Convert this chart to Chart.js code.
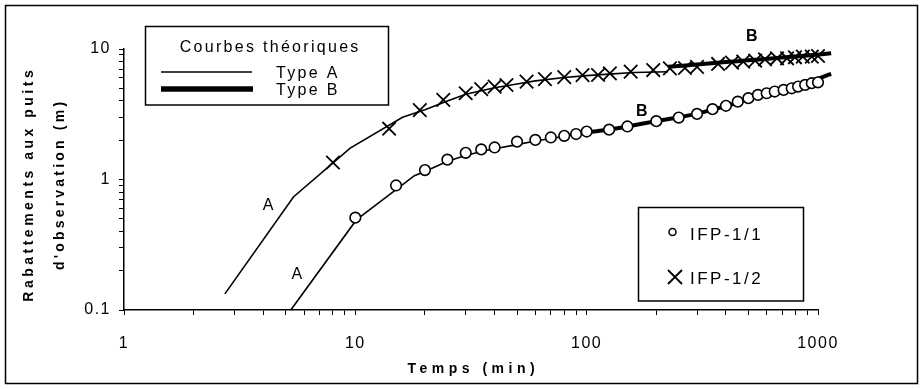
<!DOCTYPE html>
<html>
<head>
<meta charset="utf-8">
<script src="https://cdn.jsdelivr.net/npm/chart.js@4.4.0/dist/chart.umd.min.js"></script>
<style>
  html, body { margin: 0; padding: 0; background: #fff; }
  #c { display: block; background: #fff; }
</style>
</head>
<body>
<canvas id="c" width="923" height="389"></canvas>
<script>
// Rabattements aux puits d'observation - log-log

const xTickValues = [1, 10, 100, 1000];
const xTickLabels = ['1', '10', '100', '1000'];
const yTickValues = [0.1, 1, 10];
const yTickLabels = ['0.1', '1', '10'];

// mesures IFP-1/1 (cercles)
const tempsIFP11 = [10, 15, 20, 25, 30, 35, 40, 50, 60, 70, 80, 90, 100, 125, 150, 200, 250, 300, 350, 400,
    450, 500, 550, 600, 650, 710, 770, 820, 880, 940, 1000];
const rabIFP11 = [0.51, 0.9, 1.18, 1.42, 1.6, 1.7, 1.76, 1.95, 2.01, 2.1, 2.16, 2.23, 2.33, 2.41, 2.55, 2.8, 2.98, 3.18, 3.46, 3.67,
    3.95, 4.2, 4.45, 4.58, 4.72, 4.86, 5.0, 5.15, 5.31, 5.47, 5.55];

// mesures IFP-1/2 (croix)
const tempsIFP12 = [8, 14, 19, 24, 30, 35, 40, 45, 55, 66, 80, 96, 112, 126, 155, 194, 229, 266, 300, 370,
    425, 475, 535, 590, 665, 735, 795, 860, 940, 1000];
const rabIFP12 = [1.35, 2.45, 3.4, 4.07, 4.58, 4.92, 5.15, 5.3, 5.62, 5.87, 6.08, 6.3, 6.32, 6.5, 6.7, 6.9, 7.1, 7.15, 7.3, 7.68,
    7.86, 8.0, 8.14, 8.34, 8.49, 8.49, 8.64, 8.73, 8.73, 8.84];

// courbes theoriques (elles depassent un peu 1000 min)
const tempsA12 = [2.73, 5.4, 9.5, 16, 20, 25, 30, 40, 50, 60, 80, 100, 130, 160, 225];
const rabA12 = [0.133, 0.735, 1.74, 3.0, 3.42, 4.0, 4.5, 5.05, 5.4, 5.7, 6.05, 6.25, 6.45, 6.6, 6.7];
const tempsB12 = [225, 300, 400, 500, 700, 900, 1140];
const rabB12 = [7.3, 7.6, 7.94, 8.2, 8.6, 8.9, 9.27];

const tempsA11 = [5.26, 10.1, 18, 20, 25, 30, 35, 40, 50, 60, 70, 80, 95];
const rabA11 = [0.1, 0.49, 1.07, 1.15, 1.38, 1.53, 1.64, 1.72, 1.85, 1.97, 2.06, 2.14, 2.27];
const tempsB11 = [95, 125, 150, 200, 250, 300, 400, 500, 600, 700, 800, 900, 1140];
const rabB11 = [2.27, 2.42, 2.55, 2.8, 3.0, 3.2, 3.65, 4.15, 4.55, 4.9, 5.25, 5.55, 6.45];

// etiquettes des courbes
const curveLabels = ['A', 'A', 'B', 'B'];
const curveLabelBold = [false, false, true, true];
const curveLabelT = [4.2, 5.58, 517, 173];
const curveLabelS = [0.63, 0.187, 12.4, 3.32];

const FONT = '"Liberation Sans", Arial, Helvetica, sans-serif';

function toXY(xs, ys) {
    return xs.map((x, i) => ({ x: x, y: ys[i] }));
}

// draw text with letter spacing, align = left | center
function spaced(ctx, text, x, y, font, sp, align) {
    ctx.save();
    ctx.font = font;
    ctx.letterSpacing = sp + 'px';
    ctx.textAlign = 'left';
    ctx.textBaseline = 'alphabetic';
    ctx.fillStyle = '#000';
    let w = ctx.measureText(text).width - sp;
    let x0 = align === 'center' ? x - w / 2 : x;
    ctx.fillText(text, x0, y);
    ctx.restore();
}

function decadeTicks(min, max) {
    const out = [];
    for (let e = Math.round(Math.log10(min)); e < Math.round(Math.log10(max)); e++) {
        for (let k = 1; k < 10; k++) out.push(+(k * Math.pow(10, e)).toPrecision(3));
    }
    out.push(max);
    return out.map(v => ({ value: v }));
}

const decorPlugin = {
    id: 'decor',
    beforeDraw(chart) {
        chart.ctx.letterSpacing = '1.5px';
    },
    afterDatasetsDraw(chart) {
        const ctx = chart.ctx;
        const xs = chart.scales.x, ys = chart.scales.y;
        ctx.save();
        ctx.letterSpacing = '0px';
        curveLabels.forEach((lab, i) => {
            const px = xs.getPixelForValue(curveLabelT[i]);
            const py = ys.getPixelForValue(curveLabelS[i]);
            ctx.font = (curveLabelBold[i] ? 'bold ' : '') + '16px ' + FONT;
            ctx.fillStyle = '#000';
            ctx.textAlign = 'center';
            ctx.textBaseline = 'middle';
            ctx.fillText(lab, px, py);
        });
        ctx.restore();
    },
    afterDraw(chart) {
        const ctx = chart.ctx;
        ctx.letterSpacing = '0px';
        ctx.save();
        ctx.strokeStyle = '#000';

        // cadre
        ctx.lineWidth = 1.5;
        ctx.strokeRect(5.5, 5.5, 912, 378);

        // axis titles
        spaced(ctx, 'Temps (min)', 471, 373, 'bold 14px ' + FONT, 4.5, 'center');
        ctx.save();
        ctx.translate(33, 186);
        ctx.rotate(-Math.PI / 2);
        spaced(ctx, 'Rabattements aux puits', 0, 0, 'bold 14px ' + FONT, 3.5, 'center');
        ctx.restore();
        ctx.save();
        ctx.translate(64, 186);
        ctx.rotate(-Math.PI / 2);
        spaced(ctx, "d'observation (m)", 0, 0, 'bold 14px ' + FONT, 3.2, 'center');
        ctx.restore();

        // legend 1 : courbes theoriques
        ctx.fillStyle = '#fff';
        ctx.fillRect(145.5, 26.5, 243, 78.5);
        ctx.lineWidth = 1.5;
        ctx.strokeRect(145.5, 26.5, 243, 78.5);
        spaced(ctx, 'Courbes théoriques', 269, 51.5, '16px ' + FONT, 2.3, 'center');
        ctx.beginPath();
        ctx.lineWidth = 1.5;
        ctx.moveTo(161, 72);
        ctx.lineTo(252, 72);
        ctx.stroke();
        ctx.beginPath();
        ctx.lineWidth = 5.5;
        ctx.moveTo(161, 89);
        ctx.lineTo(253, 89);
        ctx.stroke();
        spaced(ctx, 'Type A', 276, 77.5, '16px ' + FONT, 2.3, 'left');
        spaced(ctx, 'Type B', 276, 95, '16px ' + FONT, 2.3, 'left');

        // legend 2 : mesures
        ctx.fillStyle = '#fff';
        ctx.fillRect(638.5, 207.5, 165, 93.5);
        ctx.lineWidth = 1.5;
        ctx.strokeRect(638.5, 207.5, 165, 93.5);
        ctx.beginPath();
        ctx.arc(672.5, 232, 3.5, 0, Math.PI * 2);
        ctx.fillStyle = '#fff';
        ctx.fill();
        ctx.lineWidth = 1.5;
        ctx.stroke();
        ctx.beginPath();
        ctx.lineWidth = 1.8;
        ctx.moveTo(668, 270); ctx.lineTo(682, 284);
        ctx.moveTo(682, 270); ctx.lineTo(668, 284);
        ctx.stroke();
        spaced(ctx, 'IFP-1/1', 690, 240, '17px ' + FONT, 2.5, 'left');
        spaced(ctx, 'IFP-1/2', 690, 283.5, '17px ' + FONT, 2.5, 'left');
        ctx.restore();
    }
};

const ctx = document.getElementById('c').getContext('2d');
new Chart(ctx, {
    type: 'scatter',
    data: {
        datasets: [{
            label: 'IFP-1/1',
            data: toXY(tempsIFP11, rabIFP11),
            pointStyle: 'circle',
            pointRadius: 5.3,
            backgroundColor: '#fff',
            borderColor: '#000',
            borderWidth: 1.6,
            clip: false
        }, {
            label: 'IFP-1/2',
            data: toXY(tempsIFP12, rabIFP12),
            pointStyle: 'crossRot',
            pointRadius: 9.5,
            borderColor: '#000',
            borderWidth: 1.8,
            clip: false
        }, {
            label: 'Type A (IFP-1/2)',
            data: toXY(tempsA12, rabA12),
            showLine: true,
            pointRadius: 0,
            borderColor: '#000',
            borderWidth: 1.6,
            tension: 0,
            clip: false
        }, {
            label: 'Type B (IFP-1/2)',
            data: toXY(tempsB12, rabB12),
            showLine: true,
            pointRadius: 0,
            borderColor: '#000',
            borderWidth: 4,
            tension: 0.3,
            clip: false
        }, {
            label: 'Type A (IFP-1/1)',
            data: toXY(tempsA11, rabA11),
            showLine: true,
            pointRadius: 0,
            borderColor: '#000',
            borderWidth: 1.6,
            tension: 0,
            clip: false
        }, {
            label: 'Type B (IFP-1/1)',
            data: toXY(tempsB11, rabB11),
            showLine: true,
            pointRadius: 0,
            borderColor: '#000',
            borderWidth: 4,
            tension: 0.3,
            clip: false
        }]
    },
    options: {
        responsive: false,
        animation: false,
        layout: { padding: { top: 49, right: 105, left: 0, bottom: 0 } },
        plugins: {
            legend: { display: false },
            tooltip: { enabled: false }
        },
        scales: {
            x: {
                type: 'logarithmic',
                position: 'bottom',
                min: 1,
                max: 1000,
                afterBuildTicks: (s) => { s.ticks = decadeTicks(1, 1000); },
                afterFit: (s) => { s.height = 79; },
                border: { display: true, color: '#000', width: 1.5 },
                grid: { drawOnChartArea: false, drawTicks: true, tickLength: 5, color: '#000', lineWidth: 1 },
                ticks: {
                    autoSkip: false,
                    maxRotation: 0,
                    padding: 19,
                    color: '#000',
                    font: { family: FONT, size: 16 },
                    callback: (v) => {
                        const i = xTickValues.findIndex(t => Math.abs(t - v) < 1e-9);
                        return i >= 0 ? xTickLabels[i] : '';
                    }
                }
            },
            y: {
                type: 'logarithmic',
                min: 0.1,
                max: 10,
                afterBuildTicks: (s) => { s.ticks = decadeTicks(0.1, 10); },
                afterFit: (s) => { s.width = 124; },
                border: { display: true, color: '#000', width: 1.5 },
                grid: { drawOnChartArea: false, drawTicks: true, tickLength: 5, color: '#000', lineWidth: 1 },
                ticks: {
                    autoSkip: false,
                    padding: 8,
                    color: '#000',
                    font: { family: FONT, size: 16 },
                    callback: (v) => {
                        const i = yTickValues.findIndex(t => Math.abs(t - v) < 1e-9);
                        return i >= 0 ? yTickLabels[i] : '';
                    }
                }
            }
        }
    },
    plugins: [decorPlugin]
});
</script>
</body>
</html>
